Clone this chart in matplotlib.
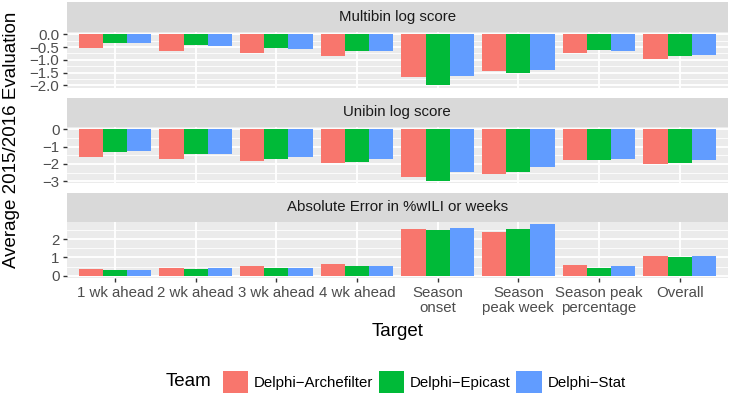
import numpy as np
import matplotlib

matplotlib.use("Agg")
import matplotlib.pyplot as plt
from matplotlib.patches import Patch

plt.rcParams["font.family"] = ["Liberation Sans", "DejaVu Sans"]

# --- data --------------------------------------------------------------------
targets = ["1 wk ahead", "2 wk ahead", "3 wk ahead", "4 wk ahead",
           "Season\nonset", "Season\npeak week", "Season peak\npercentage",
           "Overall"]
teams = ["Delphi\u2212Archefilter", "Delphi\u2212Epicast", "Delphi\u2212Stat"]
panel_titles = ["Multibin log score", "Unibin log score",
                "Absolute Error in %wILI or weeks"]

multibin_arche = [-0.53, -0.66, -0.75, -0.86, -1.69, -1.45, -0.74, -0.95]
multibin_epi = [-0.34, -0.43, -0.53, -0.65, -1.99, -1.51, -0.61, -0.86]
multibin_stat = [-0.33, -0.47, -0.58, -0.65, -1.62, -1.40, -0.66, -0.81]

unibin_arche = [-1.58, -1.72, -1.85, -1.97, -2.78, -2.60, -1.77, -2.03]
unibin_epi = [-1.31, -1.45, -1.70, -1.91, -2.97, -2.47, -1.77, -1.93]
unibin_stat = [-1.25, -1.43, -1.58, -1.70, -2.45, -2.16, -1.72, -1.77]

abserr_arche = [0.38, 0.45, 0.56, 0.67, 2.57, 2.39, 0.58, 1.09]
abserr_epi = [0.29, 0.36, 0.44, 0.53, 2.53, 2.55, 0.45, 1.02]
abserr_stat = [0.33, 0.40, 0.44, 0.51, 2.62, 2.82, 0.55, 1.09]

panel_ticks = [[0.0, -0.5, -1.0, -1.5, -2.0], [0, -1, -2, -3], [0, 1, 2]]
panel_minor = [[-0.25, -0.75, -1.25, -1.75], [-0.5, -1.5, -2.5], [0.5, 1.5, 2.5]]

panels = [
    [multibin_arche, multibin_epi, multibin_stat],
    [unibin_arche, unibin_epi, unibin_stat],
    [abserr_arche, abserr_epi, abserr_stat],
]

colors = ["#F8766D", "#00BA38", "#619CFF"]

# --- layout (pixels in a 730x400 canvas) ------------------------------------
W, H = 730, 400
LEFT, RIGHT = 66.6, 728.1
# (strip top, plot top, plot bottom)
rows = [(1.7, 31.7, 87.7), (97.5, 126.7, 183.3), (192.8, 221.7, 278.3)]

SMALL = 10.8   # ~15 px
BIG = 13.5     # ~18.75 px


def fig_box(top, bottom):
    return [LEFT / W, 1 - bottom / H, (RIGHT - LEFT) / W, (bottom - top) / H]


fig = plt.figure(figsize=(W / 100, H / 100), dpi=100)

x = np.arange(len(targets))
bw = 0.3

for i, (series, (s_top, p_top, p_bot)) in enumerate(zip(panels, rows)):
    ax = fig.add_axes(fig_box(p_top, p_bot))
    ax.set_facecolor("#EBEBEB")
    for s in ax.spines.values():
        s.set_visible(False)

    for j, vals in enumerate(series):
        ax.bar(x + (j - 1) * bw, vals, width=bw, color=colors[j],
               linewidth=0, zorder=3)

    allv = np.concatenate([np.asarray(v) for v in series])
    lo, hi = min(allv.min(), 0), max(allv.max(), 0)
    pad = 0.05 * (hi - lo)
    ax.set_ylim(lo - pad, hi + pad)
    ax.set_xlim(-0.6, len(targets) - 0.4)

    ax.set_yticks(panel_ticks[i])
    ax.set_yticks(panel_minor[i], minor=True)
    ax.grid(True, which="major", color="white", linewidth=1.3, zorder=0)
    ax.grid(True, which="minor", axis="y", color="white", linewidth=0.6,
            zorder=0)
    ax.set_axisbelow(True)
    ax.set_xticks(x)
    ax.tick_params(axis="y", which="major", length=3.2, width=1.0,
                   color="#333333", labelsize=SMALL, labelcolor="#4D4D4D",
                   pad=2.0)
    ax.tick_params(axis="y", which="minor", length=0)
    if i == len(panels) - 1:
        ax.set_xticklabels(targets, linespacing=1.15)
        ax.tick_params(axis="x", length=3.2, width=1.0, color="#333333",
                       labelsize=SMALL, labelcolor="#4D4D4D", pad=2.0)
    else:
        ax.tick_params(axis="x", length=0, labelbottom=False)

    # facet strip
    sax = fig.add_axes(fig_box(s_top, p_top))
    sax.set_facecolor("#D9D9D9")
    sax.set_xticks([])
    sax.set_yticks([])
    for s in sax.spines.values():
        s.set_visible(False)
    sax.text(0.5, 0.5, panel_titles[i], ha="center", va="center",
             fontsize=SMALL, color="#1A1A1A", transform=sax.transAxes)

# axis titles
fig.text(12 / W, 1 - 140 / H, "Average 2015/2016 Evaluation", rotation=90,
         ha="center", va="center", fontsize=BIG)
fig.text((LEFT + RIGHT) / 2 / W, 1 - 336 / H, "Target", ha="center",
         va="baseline", fontsize=BIG)

# legend
handles = [Patch(facecolor=c, edgecolor="none") for c in colors]
fig.legend(handles, teams, loc="center left",
           bbox_to_anchor=(222.7 / W, 1 - 381.7 / H), ncol=3, frameon=False,
           fontsize=SMALL, handlelength=1.71, handleheight=1.88,
           handletextpad=0.38, columnspacing=0.36, borderpad=0,
           borderaxespad=0)
fig.text(211.7 / W, 1 - 381.7 / H, "Team", ha="right", va="center",
         fontsize=BIG)

fig.savefig("out.png", dpi=100)
